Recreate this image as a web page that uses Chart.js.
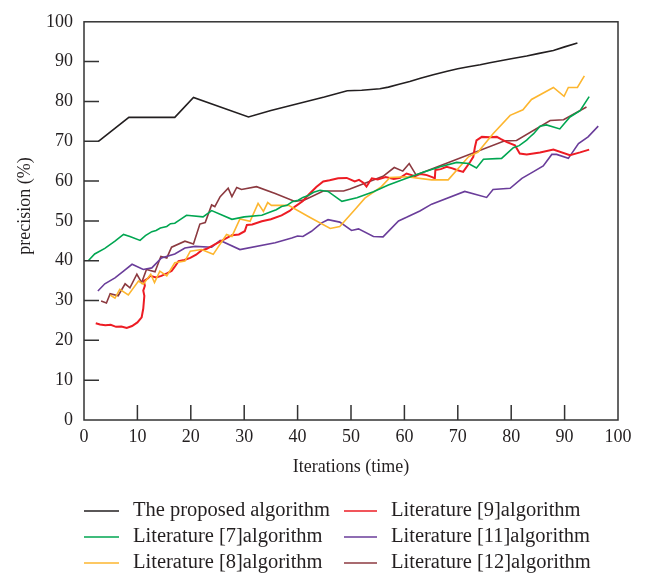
<!DOCTYPE html>
<html>
<head>
<meta charset="utf-8">
<script src="https://cdn.jsdelivr.net/npm/chart.js@4.4.1/dist/chart.umd.min.js"></script>
<style>
  html, body { margin: 0; padding: 0; background: #fff; }
  #wrap { width: 651px; height: 573px; position: relative; }
</style>
</head>
<body>
<div id="wrap"><canvas id="precisionChart" width="651" height="573"></canvas></div>
<script>
// series names (legend order in the figure)
const seriesNames = [
    'The proposed algorithm',
    'Literature [7]algorithm',
    'Literature [8]algorithm',
    'Literature [9]algorithm',
    'Literature [11]algorithm',
    'Literature [12]algorithm'
];
const seriesColors = ['#231f20', '#00a651', '#fdb62f', '#ed1c24', '#6a3d9a', '#8c3a40'];

const xTicks = [0, 10, 20, 30, 40, 50, 60, 70, 80, 90, 100];
const yTicks = [0, 10, 20, 30, 40, 50, 60, 70, 80, 90, 100];

// [iteration, precision] pairs
const proposedPts = [[2.7,70],[8.4,76],[17,76],[20.5,81],[30.8,76.1],[35,77.7],[40,79.4],[45,81.1],[49.3,82.7],[52,82.8],[55.4,83.2],[57,83.6],[59,84.3],[61,85],[63,85.8],[65.4,86.7],[68,87.6],[70,88.2],[72,88.7],[74.2,89.2],[76,89.7],[78,90.2],[80,90.7],[82.9,91.4],[85,92],[87.9,92.8],[90,93.7],[92.4,94.7]];

const lit7Pts = [[0.8,40],[2,41.7],[3.9,43.1],[5.8,44.9],[7.4,46.6],[8.6,46.1],[10.5,45.1],[11.5,46.3],[12.7,47.3],[13.5,47.6],[14.3,48.2],[15.5,48.6],[16.2,49.3],[17,49.4],[18,50.3],[19.2,51.4],[22.3,51],[23.9,52.6],[27.7,50.4],[30,51],[33.3,51.4],[35,52.3],[36,52.8],[37,53.6],[38,53.9],[39,54.8],[40.1,55.2],[41,55.9],[42,56.4],[43,57.2],[44.2,57.7],[45.7,57.4],[48.3,54.9],[51.1,55.8],[54.2,57.3],[57,59],[60.4,60.7],[63.5,62.2],[66.7,63.6],[69.8,64.7],[72,64.4],[73.5,63.3],[74.8,65.5],[78.2,65.7],[80.4,68.4],[81.5,68.9],[82.9,70.3],[83.6,71.2],[84.2,71.9],[85.4,73.8],[86.6,74.1],[89.1,73.1],[91,76.1],[92.9,77.7],[94.6,81.2]];

const lit8Pts = [[4.9,31.4],[5.8,30.6],[6.7,32.8],[8.3,31.4],[10.2,34.9],[11.1,34.1],[12.5,36.6],[13.2,34.5],[14.2,37.4],[15.5,36.2],[17,39.5],[18.9,39.9],[19.9,42.4],[22,42.8],[24.2,41.6],[26.7,46.6],[27.7,46.1],[29.2,50.5],[31.1,49.9],[32.6,54.4],[33.6,52.4],[34.4,54.6],[35.1,53.9],[38.3,53.9],[42,51.1],[46.1,48.1],[47.9,48.6],[50.7,52.8],[52.6,55.7],[55.7,58.6],[57.3,60.9],[60.4,61.1],[65.1,60.3],[68.2,60.3],[72,66.1],[73.8,67.3],[76.6,71.9],[79.8,76.5],[82.2,77.9],[83.8,80.5],[87.9,83.5],[89.9,81.3],[90.7,83.5],[92.4,83.5],[93.7,86.4]];

const lit9Pts = [[2.2,24.3],[3,24],[4,23.8],[5,23.9],[6,23.4],[7,23.5],[8,23.1],[9,23.6],[10,24.5],[10.8,25.8],[11.1,28],[11.3,31.2],[11.1,32.5],[11.4,33.7],[11.2,34.9],[12,35.6],[12.4,36.2],[13.5,35.8],[14.5,36.2],[15.5,36.8],[16.4,37.4],[17,38.5],[17.7,39.9],[18.8,40.2],[19.9,40.7],[21,41.5],[22,42.6],[23,43],[24.5,44.1],[26,45.2],[27.7,46.4],[29,46.6],[30.1,47.4],[30.5,49],[31.5,49.1],[33.3,49.9],[35,50.4],[37,51.4],[38.5,52.5],[39.5,53.6],[41,55],[42,56.5],[43.5,58.5],[44.8,59.9],[46,60.2],[47.6,60.7],[49.2,60.8],[50.7,59.9],[51.5,60.3],[52.3,59.6],[52.9,58.6],[53.9,60.7],[55,60.4],[56.5,61],[58,60.5],[59.2,60.8],[60.4,61.9],[62,61.2],[63,61.8],[64.2,61.5],[65.2,61],[65.7,60.7],[65.8,62.8],[66.8,63],[67.9,63.6],[69,63.2],[69.8,62.8],[71,62.3],[72.3,64.8],[72.9,66.1],[73.2,68.5],[73.5,70.2],[74.5,71.1],[76,71],[77.3,71.1],[78,70.6],[79.2,69.8],[80.7,69],[81.6,66.9],[82.9,66.7],[85.4,67.2],[87.9,67.9],[91,66.5],[92.9,67.2],[94.6,67.9]];

const lit11Pts = [[2.6,32.4],[3.9,34.2],[5.8,35.7],[7.4,37.4],[9,39.1],[11.1,37.8],[12.7,38.2],[14.5,40.7],[17,41.7],[18.9,43.2],[20.8,43.6],[23.9,43.4],[25.5,45.1],[29.2,42.8],[35.8,44.5],[38.9,45.7],[40,46.2],[41,46.1],[42.6,47.4],[44.5,49.5],[45.7,50.3],[47.9,49.7],[50.1,47.6],[51.4,48],[54.2,46.1],[56,46],[58.9,50],[60.4,50.9],[62.9,52.5],[65.1,54.2],[71.3,57.4],[75.4,55.9],[76.6,57.9],[79.8,58.2],[82,60.7],[84.1,62.3],[86,63.8],[87.6,66.7],[88.5,66.7],[90.7,65.7],[92.6,69.4],[94.4,71.1],[96.3,73.8]];

const lit12Pts = [[3.2,29.9],[4.2,29.4],[4.9,31.7],[6.4,31.2],[7.7,34.2],[8.6,33.2],[9.9,36.6],[10.8,34.5],[11.7,37.8],[13.3,37.2],[14.4,41.1],[15.5,40.7],[16.4,43.4],[18.9,44.9],[20.5,44.2],[21.7,49.2],[22.7,49.6],[23.9,54],[24.5,53.6],[25.5,56.1],[27,58.2],[27.7,56.1],[28.6,58.4],[29.5,57.9],[32.3,58.6],[35.8,56.9],[39.5,54.9],[41.4,55.3],[44.8,57.5],[48.6,57.5],[49.8,58],[56,61.2],[58.1,63.4],[59.7,62.5],[60.9,64.4],[62.2,61.5],[78.8,70.1],[81,70.2],[87.3,75.2],[89.8,75.4],[94.1,78.6]];

const allPts = [proposedPts, lit7Pts, lit8Pts, lit9Pts, lit11Pts, lit12Pts];

const serif = '"Liberation Serif", "DejaVu Serif", serif';
const textColor = '#231f20';
const frameColor = '#333333';

// frame box + inward tick marks + y title, like the original figure
const framePlugin = {
    id: 'frame',
    afterDraw(chart) {
        const { ctx, chartArea } = chart;
        const { left, right, top, bottom } = chartArea;
        const xs = chart.scales.x;
        const ys = chart.scales.y;
        ctx.save();
        ctx.strokeStyle = frameColor;
        ctx.lineWidth = 1.5;
        ctx.strokeRect(left, top, right - left, bottom - top);
        ctx.beginPath();
        xTicks.forEach(v => {
            if (v === 0 || v === 100) return;
            const px = xs.getPixelForValue(v);
            ctx.moveTo(px, bottom);
            ctx.lineTo(px, bottom - 15);
        });
        yTicks.forEach(v => {
            if (v === 0 || v === 100) return;
            const py = ys.getPixelForValue(v);
            ctx.moveTo(left, py);
            ctx.lineTo(left + 15, py);
        });
        ctx.stroke();

        // rotated y axis title
        ctx.translate(25, 206);
        ctx.rotate(-Math.PI / 2);
        ctx.font = '18px ' + serif;
        ctx.fillStyle = textColor;
        ctx.textAlign = 'center';
        ctx.textBaseline = 'middle';
        ctx.fillText('precision (%)', 0, 0);
        ctx.restore();
    }
};

// two-column legend under the axis
const legendPlugin = {
    id: 'twoColLegend',
    afterDraw(chart) {
        const { ctx } = chart;
        const cols = [{ lineX: 84, lineW: 35, textX: 133 }, { lineX: 344, lineW: 33, textX: 391 }];
        const rows = [511, 537, 563];
        ctx.save();
        ctx.font = '20.5px ' + serif;
        ctx.textBaseline = 'middle';
        ctx.textAlign = 'left';
        chart.data.datasets.forEach((ds, i) => {
            const c = cols[Math.floor(i / 3)];
            const y = rows[i % 3];
            ctx.strokeStyle = ds.borderColor;
            ctx.lineWidth = 1.5;
            ctx.beginPath();
            ctx.moveTo(c.lineX, y);
            ctx.lineTo(c.lineX + c.lineW, y);
            ctx.stroke();
            ctx.fillStyle = textColor;
            ctx.fillText(ds.label, c.textX, y);
        });
        ctx.restore();
    }
};

function buildChart() {
    const ctx = document.getElementById('precisionChart').getContext('2d');
    const datasets = seriesNames.map((name, i) => ({
        label: name,
        data: allPts[i].map(p => ({ x: p[0], y: p[1] })),
        borderColor: seriesColors[i],
        backgroundColor: seriesColors[i],
        borderWidth: i === 3 ? 2 : 1.6,
        pointRadius: 0,
        tension: 0,
        fill: false
    }));

    new Chart(ctx, {
        type: 'line',
        data: { datasets: datasets },
        options: {
            responsive: false,
            animation: false,
            layout: { padding: { left: 0, top: 19, right: 33, bottom: 95 } },
            plugins: {
                legend: { display: false },
                tooltip: { enabled: false }
            },
            scales: {
                x: {
                    type: 'linear',
                    min: 0,
                    max: 100,
                    afterBuildTicks: s => { s.ticks = xTicks.map(v => ({ value: v })); },
                    afterFit: s => { s.height = 58; },
                    grid: { display: false, drawTicks: false },
                    border: { display: false },
                    ticks: { color: textColor, font: { family: serif, size: 18 }, padding: 6, maxRotation: 0 },
                    title: {
                        display: true,
                        text: 'Iterations (time)',
                        color: textColor,
                        font: { family: serif, size: 18 },
                        padding: { top: 4, bottom: 0 }
                    }
                },
                y: {
                    min: 0,
                    max: 100,
                    afterBuildTicks: s => { s.ticks = yTicks.map(v => ({ value: v })); },
                    afterFit: s => { s.width = 84; },
                    grid: { display: false, drawTicks: false },
                    border: { display: false },
                    ticks: { color: textColor, font: { family: serif, size: 18 }, padding: 11 },
                    title: { display: false }
                }
            }
        },
        plugins: [framePlugin, legendPlugin]
    });
}

document.addEventListener('DOMContentLoaded', () => {
    buildChart();
});
</script>
</body>
</html>
